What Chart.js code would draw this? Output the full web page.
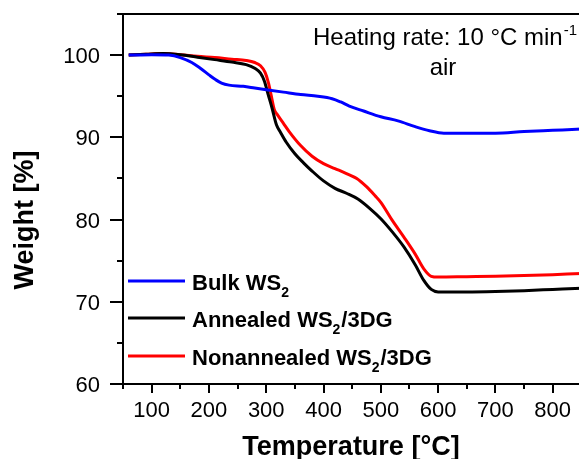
<!DOCTYPE html>
<html>
<head>
<meta charset="utf-8">
<script src="https://cdn.jsdelivr.net/npm/chart.js@4.4.1/dist/chart.umd.min.js"></script>
<style>
  html, body { margin: 0; padding: 0; background: #ffffff; overflow: hidden; width: 579px; height: 459px; }
  #wrap { position: absolute; left: 0; top: 0; width: 640px; height: 459px; }
</style>
</head>
<body>
<div id="wrap"><canvas id="tga" width="640" height="459"></canvas></div>
<script>
// TGA curves in air, 10 °C/min
const bulkTemp   = [60, 100, 130, 150, 170, 185, 200, 212, 222, 235, 260, 280, 300, 330, 360, 390, 415, 430, 445, 470, 500, 530, 560, 585, 610, 650, 700, 750, 800, 850, 900];
const bulkWeight = [100, 100.05, 100, 99.7, 99.1, 98.4, 97.6, 97.0, 96.6, 96.35, 96.2, 96.0, 95.8, 95.5, 95.2, 95.0, 94.7, 94.3, 93.8, 93.2, 92.5, 92.0, 91.3, 90.8, 90.5, 90.5, 90.5, 90.7, 90.85, 91.0, 91.1];

const annealedTemp   = [60, 90, 120, 150, 180, 210, 240, 265, 280, 290, 297, 303, 310, 318, 325, 335, 350, 365, 380, 400, 420, 440, 460, 480, 500, 520, 540, 560, 575, 588, 600, 650, 700, 750, 800, 850, 900];
const annealedWeight = [100, 100.1, 100.2, 100.05, 99.75, 99.45, 99.15, 98.85, 98.4, 97.8, 96.8, 95.3, 93.6, 91.5, 90.6, 89.4, 88.0, 86.9, 85.9, 84.7, 83.8, 83.2, 82.5, 81.4, 80.1, 78.5, 76.7, 74.5, 72.6, 71.5, 71.2, 71.2, 71.25, 71.35, 71.5, 71.65, 71.75];

const nonannealedTemp   = [60, 90, 120, 150, 180, 210, 240, 265, 280, 290, 298, 304, 309, 314, 320, 330, 340, 360, 380, 400, 420, 440, 458, 475, 490, 500, 520, 540, 560, 575, 588, 600, 650, 700, 750, 800, 850, 900];
const nonannealedWeight = [100, 100.1, 100.2, 100.05, 99.85, 99.7, 99.5, 99.35, 99.1, 98.7, 97.9, 96.6, 95.0, 93.4, 92.7, 91.7, 90.7, 89.0, 87.7, 86.8, 86.2, 85.6, 85.0, 84.0, 82.9, 82.1, 79.9, 77.9, 75.8, 74.0, 73.1, 73.0, 73.05, 73.1, 73.2, 73.3, 73.45, 73.55];

const seriesNames  = ['Bulk WS|2|', 'Annealed WS|2|/3DG', 'Nonannealed WS|2|/3DG'];
const seriesColors = ['#0000ff', '#000000', '#ff0000'];

const xTickLabels = [100, 200, 300, 400, 500, 600, 700, 800, 900];
const yTickLabels = [60, 70, 80, 90, 100];

const xMin = 50, xMax = 900, yMin = 60, yMax = 105;

const toPoints = (t, w) => t.map((v, i) => ({ x: v, y: w[i] }));

const FONT = '"Liberation Sans", Arial, Helvetica, sans-serif';

// Frame, tick marks, tick labels, axis titles, legend and annotation
const decor = {
  id: 'decor',
  afterDraw(chart) {
    const { ctx, chartArea: a, scales: { x, y } } = chart;
    ctx.save();
    ctx.strokeStyle = '#000';
    ctx.lineWidth = 2;
    ctx.lineCap = 'square';
    ctx.beginPath();
    ctx.moveTo(a.left, a.top); ctx.lineTo(a.right, a.top);
    ctx.lineTo(a.right, a.bottom);
    ctx.stroke();

    ctx.lineCap = 'butt';
    ctx.beginPath();
    for (let v = xMin; v <= xMax; v += 50) {
      const px = Math.round(x.getPixelForValue(v));
      const len = v % 100 === 0 ? 9 : 5;
      ctx.moveTo(px, a.bottom); ctx.lineTo(px, a.bottom + len);
    }
    for (let v = yMin; v <= yMax; v += 5) {
      const py = Math.round(y.getPixelForValue(v));
      const len = v % 10 === 0 ? 13 : 6;
      ctx.moveTo(a.left, py); ctx.lineTo(a.left - len, py);
    }
    ctx.stroke();

    ctx.fillStyle = '#000';
    ctx.font = '22px ' + FONT;
    ctx.textBaseline = 'alphabetic';
    ctx.textAlign = 'center';
    xTickLabels.forEach(v => ctx.fillText(String(v), x.getPixelForValue(v), a.bottom + 33));
    ctx.textAlign = 'right';
    yTickLabels.forEach(v => ctx.fillText(String(v), a.left - 23, y.getPixelForValue(v) + 8));

    // axis titles
    ctx.font = 'bold 27px ' + FONT;
    ctx.textAlign = 'center';
    ctx.fillText('Temperature [°C]', 351, 455);
    ctx.save();
    ctx.translate(33, 220);
    ctx.rotate(-Math.PI / 2);
    ctx.fillText('Weight [%]', 0, 0);
    ctx.restore();

    // annotation
    ctx.font = '24px ' + FONT;
    ctx.textAlign = 'left';
    const line1 = 'Heating rate: 10 °C min';
    ctx.fillText(line1, 313, 45);
    const w1 = ctx.measureText(line1).width;
    ctx.font = '15px ' + FONT;
    ctx.fillText('-1', 313 + w1 + 1, 35);
    ctx.font = '24px ' + FONT;
    ctx.textAlign = 'center';
    ctx.fillText('air', 443, 75);

    // legend
    const rows = [281, 318, 356];
    ctx.textAlign = 'left';
    seriesNames.forEach((name, i) => {
      const yy = rows[i];
      ctx.strokeStyle = seriesColors[i];
      ctx.lineWidth = 3;
      ctx.beginPath();
      ctx.moveTo(128, yy); ctx.lineTo(185, yy);
      ctx.stroke();
      const parts = name.split('|');
      let cx = 192;
      const base = yy + 9;
      parts.forEach((p, k) => {
        if (!p) return;
        const sub = k % 2 === 1;
        ctx.font = (sub ? 'bold 14px ' : 'bold 22px ') + FONT;
        ctx.fillText(p, cx, sub ? base + 7 : base);
        cx += ctx.measureText(p).width + (sub ? 1 : 0);
      });
    });
    ctx.restore();
  }
};

new Chart(document.getElementById('tga'), {
  type: 'line',
  data: {
    datasets: [
      { label: 'Bulk WS2', data: toPoints(bulkTemp, bulkWeight), borderColor: seriesColors[0] },
      { label: 'Annealed WS2/3DG', data: toPoints(annealedTemp, annealedWeight), borderColor: seriesColors[1] },
      { label: 'Nonannealed WS2/3DG', data: toPoints(nonannealedTemp, nonannealedWeight), borderColor: seriesColors[2] }
    ].map(d => Object.assign(d, { borderWidth: 3, pointRadius: 0, cubicInterpolationMode: 'monotone', fill: false }))
  },
  options: {
    responsive: false,
    animation: false,
    events: [],
    layout: { padding: { top: 14, right: 30, left: 0, bottom: 0 } },
    plugins: { legend: { display: false }, tooltip: { enabled: false } },
    scales: {
      x: {
        type: 'linear', min: xMin, max: xMax,
        afterFit(s) { s.height = 75; },
        grid: { display: true, drawOnChartArea: false, drawTicks: false },
        border: { display: true, color: '#000', width: 2 },
        ticks: { display: false }
      },
      y: {
        type: 'linear', min: yMin, max: yMax,
        afterFit(s) { s.width = 123; },
        grid: { display: true, drawOnChartArea: false, drawTicks: false },
        border: { display: true, color: '#000', width: 2 },
        ticks: { display: false }
      }
    }
  },
  plugins: [decor]
});
</script>
</body>
</html>
